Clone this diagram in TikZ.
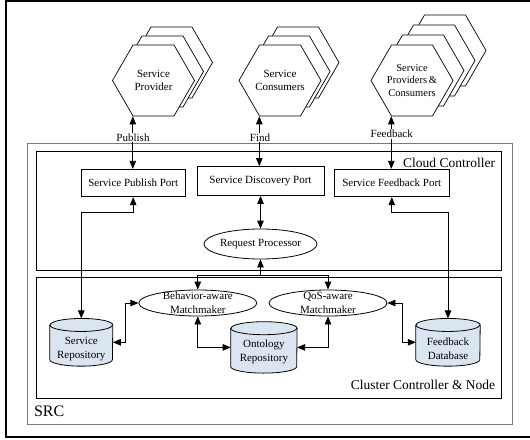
\documentclass[tikz,border=0pt]{standalone}
\usepackage{fontspec}
\setmainfont{Liberation Serif}
\usetikzlibrary{arrows.meta,shapes.geometric,calc}
\definecolor{cylblue}{RGB}{219,229,241}
\definecolor{srcgray}{RGB}{120,120,120}
\newcommand\drawcyl[3]{%
  \draw[line width=0.8pt, fill=cylblue] ([yshift=-#3]#1.north west) -- ([yshift=#3]#1.south west)
    arc[start angle=180,end angle=360,x radius=#2,y radius=#3] -- ([yshift=-#3]#1.north east)
    arc[start angle=0,end angle=180,x radius=#2,y radius=#3] -- cycle;
  \draw[line width=0.8pt] ([yshift=-#3]#1.north west) arc[start angle=180,end angle=360,x radius=#2,y radius=#3];
}
\begin{document}
\begin{tikzpicture}[x=1pt,y=-1pt,
  every node/.style={font=\fontsize{11}{13.5}\selectfont},
  >={Triangle[length=8pt,width=6.5pt]},
  conn/.style={line width=0.8pt},
  hexa/.style={regular polygon, regular polygon sides=6, minimum size=82pt, inner sep=0pt, draw, fill=white, line width=0.7pt, align=center},
  port/.style={draw, line width=0.8pt, inner sep=0pt, minimum height=27.5pt},
  ell/.style={ellipse, draw, line width=0.8pt, inner sep=0pt, fill=white},
  cylbox/.style={rectangle, inner sep=0pt},
  txt/.style={align=center, inner sep=0pt},
  lbl/.style={fill=white, inner sep=1pt},
  big/.style={inner sep=0pt, font=\fontsize{13.5}{16}\selectfont}
]
\useasboundingbox (0,0) rectangle (530,439);
% outer frame
\draw[line width=2pt] (6,1) rectangle (545,436.5);
% containers
\draw[srcgray, line width=0.9pt] (27.7,143.7) rectangle (512.8,424.5);
\draw[line width=0.8pt] (36.2,151.1) rectangle (501,270);
\draw[line width=0.8pt] (36.2,277.8) rectangle (501,398.2);
\node[big, anchor=east] (cclabel) at (495.3,162.5) {Cloud Controller};
\node[big, anchor=east] (cnlabel) at (495.3,384.7) {Cluster Controller \& Node};
\node[inner sep=0pt, anchor=west, font=\fontsize{16}{19}\selectfont] (srclabel) at (33.8,411.7) {SRC};

% hexagon stacks
\foreach \d in {18,9} \node[hexa] at (153.5+\d,80.5-\d) {};
\node[hexa] (sp) at (153.5,80.5) {Service\\Provider};
\foreach \d in {18,9} \node[hexa] at (280+\d,80.5-\d) {};
\node[hexa] (sc) at (280,80.5) {Service\\Consumers};
\foreach \a/\b in {33/30,22/20,11/10} \node[hexa] at (412+\a,80.5-\b) {};
\node[hexa, font=\fontsize{10.5}{12.5}\selectfont] (pc) at (412,80.5) {Service\\Providers\,\&\\Consumers};

% ports
\node[port, minimum width=104pt] (spp) at (133.2,183) {Service Publish Port};
\node[port, minimum width=127pt, minimum height=29pt] (sdp) at (260.5,181) {Service Discovery Port};
\node[port, minimum width=115.6pt] (sfp) at (391.8,183) {Service Feedback Port};

% ellipses
\node[ell, minimum width=113pt, minimum height=30pt] (rp) at (260.5,244) {};
\node[txt] (rpt) at (rp) {Request Processor};
\node[ell, minimum width=118pt, minimum height=26pt] (bm) at (197.8,303) {};
\node[txt, font=\fontsize{11}{14}\selectfont] (bmt) at (bm) {Behavior-aware\\Matchmaker};
\node[ell, minimum width=118pt, minimum height=26pt] (qm) at (328,303) {};
\node[txt, font=\fontsize{11}{14}\selectfont] (qmt) at (qm) {QoS-aware\\Matchmaker};

% cylinders
\node[cylbox, minimum width=62.6pt, minimum height=47.3pt] (sr) at (81.3,342.3) {};
\drawcyl{sr}{31.3pt}{6.5pt}
\node[txt] (srt) at ($(sr)+(0,6.5)$) {Service\\Repository};
\node[cylbox, minimum width=66pt, minimum height=51pt] (onto) at (263.9,347.4) {};
\drawcyl{onto}{33pt}{6.5pt}
\node[txt] (ontot) at ($(onto)+(0,4.5)$) {Ontology\\Repository};
\node[cylbox, minimum width=64pt, minimum height=47.3pt] (fd) at (448,342.3) {};
\drawcyl{fd}{32pt}{6.5pt}
\node[txt] (fdt) at ($(fd)+(0,6.5)$) {Feedback\\Database};

% connectors
\draw[conn,<->] (sp.240) -- (sp.240 |- spp.north);
\draw[conn,<->] (sc.240) -- (sc.240 |- sdp.north);
\draw[conn,<->] (pc.240) -- (pc.240 |- sfp.north);
\node[lbl] (publbl) at (133,137.6) {Publish};
\node[lbl] (findlbl) at (260,137.6) {Find};
\node[lbl] (fblbl) at (391.8,134) {Feedback};

\draw[conn,<->] (sdp.south) -- (rp.north);
\coordinate (j) at (260.5,275.5);
\draw[conn,<-] (rp.south) -- (j);
\draw[conn,->] (j) -| (bm.north);
\draw[conn,->] (j) -| (qm.north);

\draw[conn,<->] (spp.south) -- ++(0,15) -| (sr.north);
\draw[conn,<->] (sfp.south) -- ++(0,15) -| (fd.north);
\draw[conn,<->] (sr.east) -- ++(12.5,0) |- (bm.west);
\draw[conn,<->] (bm.south) |- (onto.west);
\draw[conn,<->] (onto.east) -| (qm.south);
\draw[conn,<->] (qm.east) -- ++(15.3,0) |- (fd.west);
\end{tikzpicture}
\end{document}
